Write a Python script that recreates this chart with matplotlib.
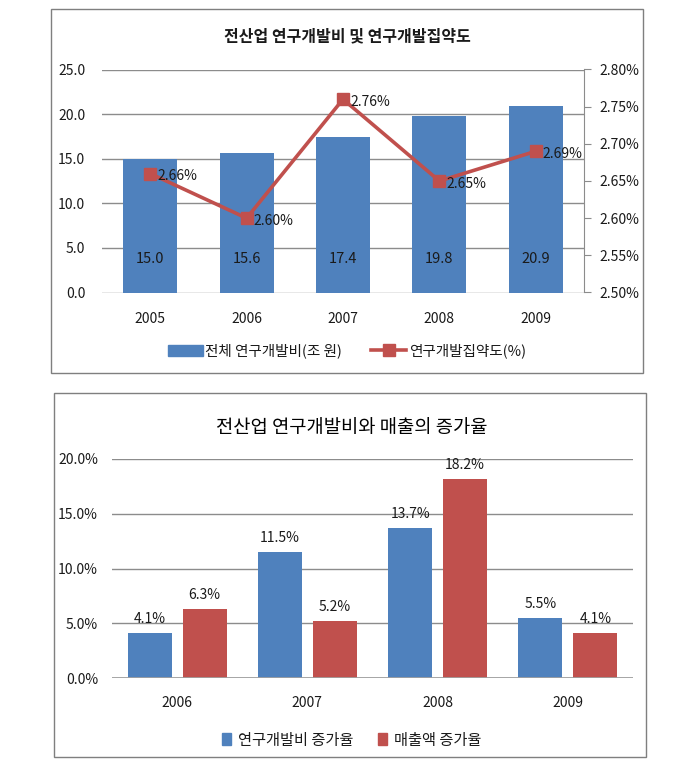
import matplotlib
matplotlib.use("Agg")
import matplotlib.pyplot as plt
from matplotlib.patches import Rectangle, Patch
from matplotlib.lines import Line2D
import numpy as np

plt.rcParams['font.family'] = ['Noto Sans CJK KR', 'DejaVu Sans']

# ---- data: top chart ----
years_top = ['2005', '2006', '2007', '2008', '2009']
rd_total = [15.0, 15.6, 17.4, 19.8, 20.9]          # 조 원
rd_intensity = [2.66, 2.60, 2.76, 2.65, 2.69]       # %
left_ticks = [0.0, 5.0, 10.0, 15.0, 20.0, 25.0]
right_ticks = [2.50, 2.55, 2.60, 2.65, 2.70, 2.75, 2.80]
title_top = '전산업 연구개발비 및 연구개발집약도'
legend_top = ['전체 연구개발비(조 원)', '연구개발집약도(%)']

# ---- data: bottom chart ----
years_bot = ['2006', '2007', '2008', '2009']
rd_growth = [4.1, 11.5, 13.7, 5.5]
sales_growth = [6.3, 5.2, 18.2, 4.1]
bot_ticks = [0.0, 5.0, 10.0, 15.0, 20.0]
title_bot = '전산업 연구개발비와 매출의 증가율'
legend_bot = ['연구개발비 증가율', '매출액 증가율']

BLUE = '#4F81BD'
RED = '#C0504D'
GRID = '#8C8C8C'
TXT = '#1a1a1a'

W, H = 682, 776
fig = plt.figure(figsize=(W / 100, H / 100), dpi=100)

def px_axes(x0, y0, x1, y1):
    return fig.add_axes([x0 / W, 1 - y1 / H, (x1 - x0) / W, (y1 - y0) / H])

def px_box(x0, y0, x1, y1):
    fig.patches.append(Rectangle((x0 / W, 1 - y1 / H), (x1 - x0) / W, (y1 - y0) / H,
                                 transform=fig.transFigure, fill=False,
                                 edgecolor='#7F7F7F', linewidth=1.0))

# ================= TOP CHART =================
px_box(51, 9, 643, 373)
ax = px_axes(102, 69.5, 584, 292.5)
x = np.arange(len(years_top))
ax.bar(x, rd_total, width=0.56, color=BLUE, zorder=2)
ax.set_xlim(-0.5, len(years_top) - 0.5)
ax.set_ylim(0, 25)
ax.set_yticks(left_ticks)
ax.set_yticklabels([f'{v:.1f}' for v in left_ticks], fontsize=10, color=TXT)
ax.set_xticks(x)
ax.set_xticklabels(years_top, fontsize=10, color=TXT)
ax.tick_params(axis='both', length=0)
ax.tick_params(axis='y', pad=12)
ax.tick_params(axis='x', pad=14)
for s in ax.spines.values():
    s.set_visible(False)
ax.grid(axis='y', color=GRID, linewidth=1.0, zorder=0)
ax.set_axisbelow(True)
for xi, v in zip(x, rd_total):
    ax.text(xi, 3.8, f'{v:.1f}', ha='center', va='center', fontsize=10.5, color=TXT, zorder=3)

ax2 = ax.twinx()
ax2.set_ylim(2.50, 2.80)
ax2.set_yticks(right_ticks)
ax2.set_yticklabels([f'{v:.2f}%' for v in right_ticks], fontsize=10, color=TXT)
for k, s in ax2.spines.items():
    s.set_visible(k == 'right')
ax2.spines['right'].set_color(GRID)
ax2.tick_params(axis='y', length=5, color=GRID, pad=6, direction='out')
ax2.plot(x, rd_intensity, color=RED, linewidth=2.6, marker='s', markersize=8,
         markerfacecolor=RED, markeredgecolor=RED, zorder=4)
for xi, v in zip(x, rd_intensity):
    ax2.annotate(f'{v:.2f}%', (xi, v), xytext=(5, -2), textcoords='offset points',
                 ha='left', va='center', fontsize=10, color=TXT, zorder=5)

fig.text(347 / W, 1 - 36 / H, title_top, ha='center', va='center',
         fontsize=11.5, fontweight='bold', color=TXT)

h1 = Patch(facecolor=BLUE, edgecolor=BLUE)
h2 = Line2D([], [], color=RED, linewidth=2.6, marker='s', markersize=8)
fig.legend([h1, h2], legend_top, loc='center', bbox_to_anchor=(347 / W, 1 - 351 / H),
           ncol=2, frameon=False, fontsize=10.5, handlelength=2.4, handleheight=0.8,
           columnspacing=2.0, handletextpad=0.2, labelcolor=TXT)

# ================= BOTTOM CHART =================
px_box(54, 393, 646, 757)
bx = px_axes(112, 459, 633, 678)
xb = np.arange(len(years_bot))
bw = 0.338
off = 0.211
b1 = bx.bar(xb - off, rd_growth, width=bw, color=BLUE, zorder=2)
b2 = bx.bar(xb + off, sales_growth, width=bw, color=RED, zorder=2)
bx.set_xlim(-0.5, len(years_bot) - 0.5)
bx.set_ylim(0, 20)
bx.set_yticks(bot_ticks)
bx.set_yticklabels([f'{v:.1f}%' for v in bot_ticks], fontsize=10, color=TXT)
bx.set_xticks(xb)
bx.set_xticklabels(years_bot, fontsize=10, color=TXT)
bx.tick_params(axis='both', length=0)
bx.tick_params(axis='y', pad=10)
bx.tick_params(axis='x', pad=13)
for s in bx.spines.values():
    s.set_visible(False)
bx.grid(axis='y', color=GRID, linewidth=1.0, zorder=0)
bx.axhline(0, color='#A0A0A0', linewidth=2.0, zorder=3)
bx.set_axisbelow(True)
for bars, vals in ((b1, rd_growth), (b2, sales_growth)):
    for r, v in zip(bars, vals):
        bx.annotate(f'{v:.1f}%', (r.get_x() + r.get_width() / 2, v), xytext=(0, 10),
                    textcoords='offset points', ha='center', va='center',
                    fontsize=10, color=TXT)

fig.text(352 / W, 1 - 427 / H, title_bot, ha='center', va='center',
         fontsize=13.5, color='#000000')

g1 = Patch(facecolor=BLUE, edgecolor=BLUE)
g2 = Patch(facecolor=RED, edgecolor=RED)
fig.legend([g1, g2], legend_bot, loc='center', bbox_to_anchor=(352 / W, 1 - 740 / H),
           ncol=2, frameon=False, fontsize=11, handlelength=0.55, handleheight=0.85,
           columnspacing=1.6, handletextpad=0.5, labelcolor=TXT)

fig.savefig('out.png', dpi=100)
